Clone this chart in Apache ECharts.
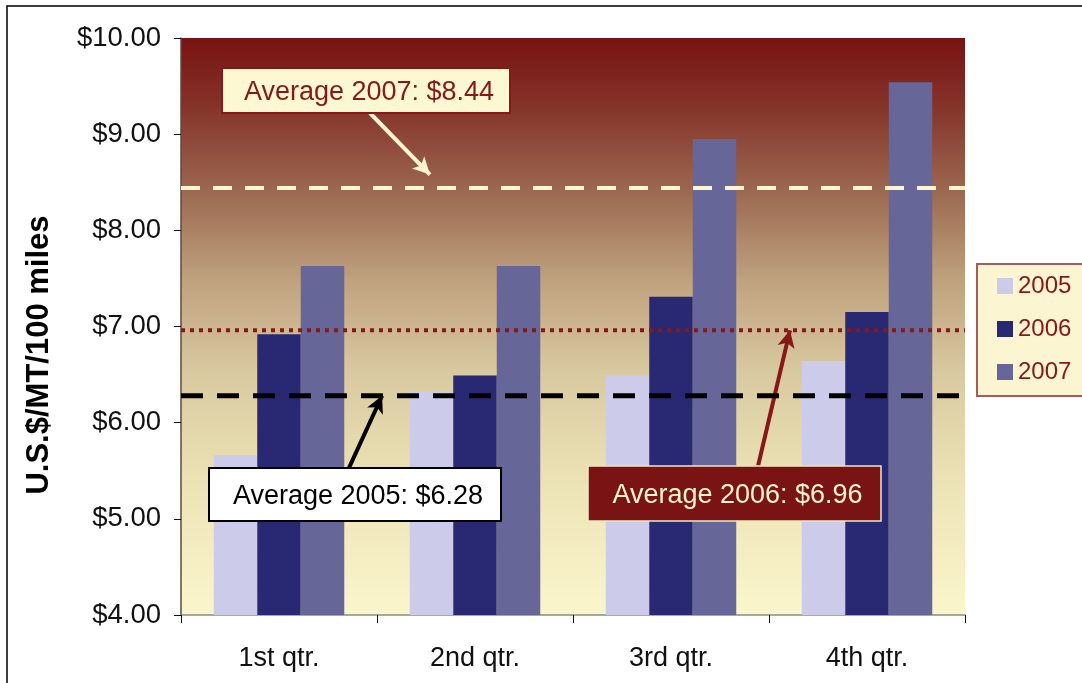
<!DOCTYPE html>
<html>
<head>
<meta charset="utf-8">
<script src="https://cdn.jsdelivr.net/npm/echarts@6/dist/echarts.min.js"></script>
<style>
  html, body { margin: 0; padding: 0; background: #ffffff; }
  #chart { width: 1082px; height: 683px; }
</style>
</head>
<body>
<div id="chart"></div>
<script>
// Quarterly freight cost, U.S.$ per metric ton per 100 miles
const quarters = ['1st qtr.', '2nd qtr.', '3rd qtr.', '4th qtr.'];
const years = ['2005', '2006', '2007'];
const cost2005 = [5.66, 6.32, 6.49, 6.64];
const cost2006 = [6.92, 6.49, 7.31, 7.15];
const cost2007 = [7.63, 7.63, 8.95, 9.54];
// Yearly averages, one per year above
const averages = [6.28, 6.96, 8.44];
// Callout arrows: [start x, start y] -> [end x, end y] on the hidden 0..4 x scale and the $ y scale
const arrow2005 = [[0.857, 5.53], [1.026, 6.28]];
const arrow2006 = [[2.944, 5.55], [3.107, 6.96]];
const arrow2007 = [[0.964, 9.22], [1.27, 8.58]];
const yTicks = { min: 4, max: 10, step: 1 };

const FONT = '"Liberation Sans", Arial, Helvetica, sans-serif';
const DARK_RED = '#861818';
const CREAM = '#fbf4cf';
const barColors = ['#ccccea', '#282873', '#666699'];

const chart = echarts.init(document.getElementById('chart'), null, { renderer: 'canvas' });

function avgLine(idx, color, width, dash, arrow) {
  return {
    name: 'avg' + years[idx],
    type: 'line',
    xAxisIndex: 1,
    yAxisIndex: 0,
    data: [[0, averages[idx]], [4, averages[idx]]],
    symbol: 'none',
    silent: true,
    z: 5,
    lineStyle: { color: color, width: width, type: dash },
    markLine: {
      silent: true,
      symbol: ['none', 'arrow'],
      symbolSize: [13, 17],
      label: { show: false },
      lineStyle: { color: color, width: 4, type: 'solid' },
      emphasis: { disabled: true },
      data: [[{ coord: arrow[0] }, { coord: arrow[1] }]]
    }
  };
}

function callout(x, y, w, h, fill, stroke, strokeW, textColor, text) {
  return [
    { type: 'rect', z: 100, silent: true, shape: { x: x, y: y, width: w, height: h },
      style: { fill: fill, stroke: stroke, lineWidth: strokeW } },
    { type: 'text', z: 101, silent: true, x: x + w / 2 + 3, y: y + h / 2 + 2,
      style: { text: text, fill: textColor, font: '27px ' + FONT, align: 'center', verticalAlign: 'middle' } }
  ];
}

const option = {
  animation: false,
  backgroundColor: '#ffffff',
  grid: {
    left: 181, top: 38, width: 784, height: 577,
    show: true,
    borderWidth: 0,
    backgroundColor: {
      type: 'linear', x: 0, y: 0, x2: 0, y2: 1,
      colorStops: [
        { offset: 0, color: '#781212' },
        { offset: 0.12, color: '#85342a' },
        { offset: 0.27, color: '#9c6a52' },
        { offset: 0.42, color: '#bfa27e' },
        { offset: 0.58, color: '#d9c9a0' },
        { offset: 0.78, color: '#ede4b7' },
        { offset: 1, color: '#faf6cb' }
      ]
    }
  },
  legend: {
    data: years,
    orient: 'vertical',
    left: 977, top: 264,
    itemWidth: 16, itemHeight: 16, itemGap: 19,
    icon: 'rect',
    padding: [10, 30, 12, 20],
    backgroundColor: '#fbf6d1',
    borderColor: '#a85a5a',
    borderWidth: 2,
    borderRadius: 0,
    selectedMode: false,
    textStyle: { fontSize: 24, color: DARK_RED, fontFamily: FONT }
  },
  xAxis: [
    {
      type: 'category',
      data: quarters,
      axisLine: { lineStyle: { color: '#8a8a8a', width: 1.5 } },
      axisTick: { show: true, length: 8, lineStyle: { color: '#111' } },
      axisLabel: { fontSize: 27, color: '#111', fontFamily: FONT, margin: 30 },
      splitLine: { show: false }
    },
    { type: 'value', min: 0, max: 4, show: false, gridIndex: 0 }
  ],
  yAxis: {
    type: 'value',
    min: yTicks.min, max: yTicks.max, interval: yTicks.step,
    axisLine: { show: true, lineStyle: { color: '#5a4a44', width: 1.5 } },
    axisTick: { show: true, length: 7, lineStyle: { color: '#111' } },
    axisLabel: { fontSize: 27.5, color: '#111', fontFamily: FONT, margin: 20,
      formatter: v => '$' + v.toFixed(2) },
    splitLine: { show: false }
  },
  series: [
    { name: years[0], type: 'bar', data: cost2005, itemStyle: { color: barColors[0] },
      barWidth: 43.5, barGap: '0%', silent: true },
    { name: years[1], type: 'bar', data: cost2006, itemStyle: { color: barColors[1] },
      barWidth: 43.5, barGap: '0%', silent: true },
    { name: years[2], type: 'bar', data: cost2007, itemStyle: { color: barColors[2] },
      barWidth: 43.5, barGap: '0%', silent: true },
    avgLine(0, '#000000', 5, [22, 14], arrow2005),
    avgLine(1, '#861818', 4, [4, 5], arrow2006),
    avgLine(2, CREAM, 4, [19, 13], arrow2007)
  ],
  graphic: [
    { type: 'rect', silent: true, z: -10,
      shape: { x: 7, y: 6, width: 1100, height: 700 },
      style: { fill: 'none', stroke: '#000', lineWidth: 1.5 } },
    { type: 'text', silent: true, x: 39, y: 355, rotation: Math.PI / 2,
      style: { text: 'U.S.$/MT/100 miles', font: 'bold 31px ' + FONT, fill: '#000',
        align: 'center', verticalAlign: 'middle' } }
  ].concat(
    callout(222, 68, 288, 45, '#fcf8d2', DARK_RED, 2, DARK_RED,
      'Average ' + years[2] + ': $' + averages[2].toFixed(2)),
    callout(209, 468, 292, 53, '#ffffff', '#000000', 2, '#000000',
      'Average ' + years[0] + ': $' + averages[0].toFixed(2)),
    callout(588, 466, 293, 55, '#7a1414', '#f3e6bf', 1.5, CREAM,
      'Average ' + years[1] + ': $' + averages[1].toFixed(2))
  )
};

chart.setOption(option);
</script>
</body>
</html>
